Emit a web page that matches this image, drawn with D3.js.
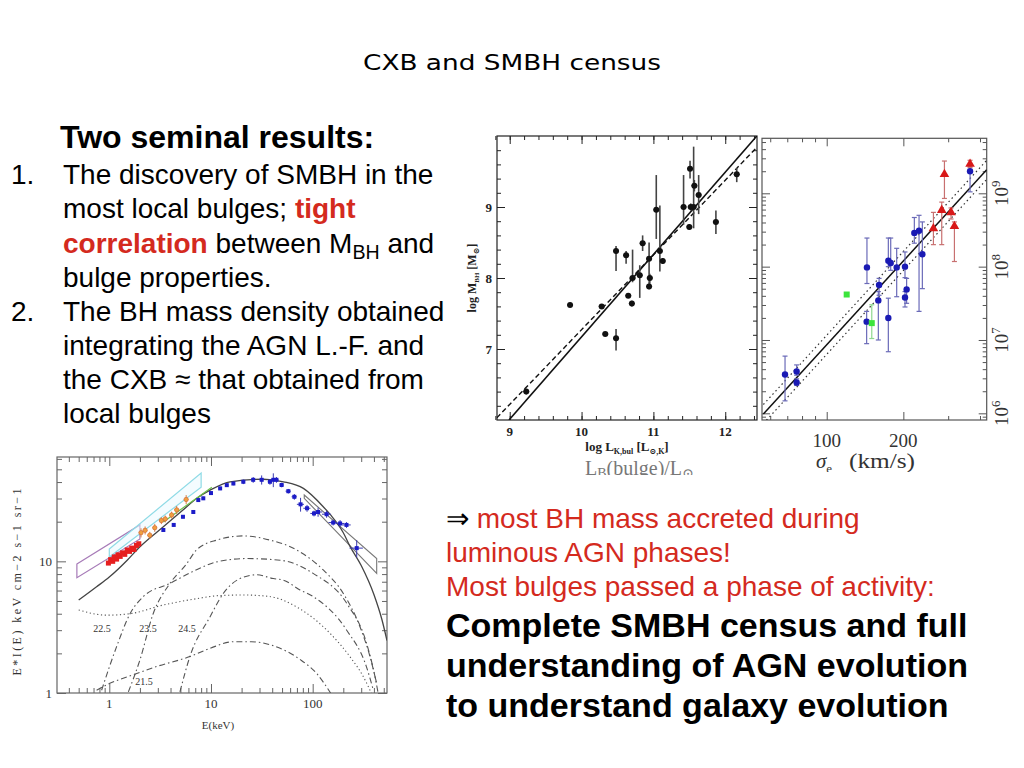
<!DOCTYPE html>
<html lang="en">
<head>
<meta charset="UTF-8" />
<script src="https://d3js.org/d3.v7.min.js"></script>
<style>
  body { margin: 0; background: #fff; }
  svg { display: block; }
</style>
</head>
<body>
<svg width="1024" height="768"></svg>
<script>
// ---------- panel 1 : M_BH vs L_K,bul ----------
const lkX    = [9.23, 9.84, 10.28, 10.33, 10.48, 10.48, 10.62, 10.65, 10.70, 10.71, 10.81, 10.85, 10.94, 10.94, 10.95, 11.04, 11.09, 11.13, 11.42, 11.50, 11.51, 11.52, 11.56, 11.57, 11.63, 11.87, 12.16];
const lkY    = [6.40, 7.62, 7.60, 7.21, 7.15, 8.38, 8.32, 7.75, 7.64, 8.00, 8.04, 8.49, 8.27, 7.88, 8.00, 8.96, 8.38, 8.24, 9.00, 8.72, 9.54, 9.00, 9.00, 9.30, 9.17, 8.79, 9.46];
const lkYlo  = [6.36, 7.59, 7.58, 7.19, 6.98, 8.10, 8.20, 7.73, 7.60, 7.94, 7.72, 8.38, 7.95, 7.84, 7.92, 8.55, 8.09, 8.20, 8.75, 8.68, 9.40, 8.95, 8.70, 9.22, 8.90, 8.62, 9.35];
const lkYhi  = [6.44, 7.65, 7.62, 7.23, 7.28, 8.45, 8.38, 7.77, 7.68, 8.40, 8.18, 8.60, 8.50, 7.95, 8.06, 9.45, 9.02, 8.28, 9.45, 8.76, 9.65, 9.05, 9.85, 9.38, 9.45, 8.95, 9.55];
const lkFitSolidX = [8.99, 12.44], lkFitSolidY = [6.00, 10.00];
const lkFitDashX  = [8.82, 12.44], lkFitDashY  = [6.03, 9.84];
const lkTicksX = [9, 10, 11, 12];
const lkTicksY = [7, 8, 9];

// ---------- panel 2 : M_BH vs sigma ----------
const sigBlue   = [68.6, 76.2, 76.2, 143.9, 143.5, 160.6, 159.5, 174.6, 174.6, 178.4, 188.3, 203, 206, 203, 220.9, 230.5, 237.5, 365.6];
const mBlue     = [6.53, 6.57, 6.42, 7.99, 7.25, 7.75, 7.54, 7.30, 8.08, 8.05, 7.99, 8.00, 7.69, 7.58, 8.46, 8.49, 8.17, 9.30];
const mBlueLo   = [6.17, 6.52, 6.38, 7.77, 6.95, 7.61, 7.00, 6.84, 8.00, 7.95, 7.59, 7.85, 7.50, 7.45, 8.32, 7.39, 7.70, 9.02];
const mBlueHi   = [6.78, 6.66, 6.47, 8.39, 7.39, 7.84, 7.66, 7.57, 8.39, 8.39, 8.25, 8.20, 7.84, 7.66, 8.67, 8.70, 8.61, 9.37];
const sigRed    = [262.5, 283, 290, 307.8, 317.4, 365.6];
const mRed      = [8.52, 8.77, 9.26, 8.74, 8.55, 9.40];
const mRedLo    = [8.30, 8.30, 8.93, 8.65, 8.07, 9.35];
const mRedHi    = [8.74, 8.88, 9.44, 8.80, 8.61, 9.45];
const sigGreen  = [119.8, 150.3];
const mGreen    = [7.62, 7.23];
const mGreenLo  = [7.60, 7.02];
const mGreenHi  = [7.64, 7.48];
const sigFitX = [56.4, 425], sigFitY = [5.99, 9.32];
const sigFitScatter = 0.13;
const sigTicksX = [100, 200];
const sigTicksY = [6, 7, 8, 9];

// ---------- panel 3 : CXB spectrum ----------
const totE = [0.5, 0.75, 1.0, 1.5, 2, 3.4, 5.3, 7.2, 9.8, 15.4, 32.6, 51.5, 81, 127, 150, 200, 233, 300, 400, 480, 538];
const totF = [5.08, 6.41, 7.6, 10.2, 12.9, 18.3, 24.5, 30, 34.7, 40.2, 42, 40.2, 35.8, 26, 22.5, 16.5, 13, 9.3, 5.6, 3.6, 2.5];
const dotE = [0.5, 0.94, 1.6, 3.4, 7.2, 12.2, 20.8, 38, 69.7, 148, 232, 315, 377];
const dotF = [4.27, 3.9, 4.0, 4.66, 5.2, 5.5, 5.55, 5.4, 4.5, 2.84, 1.89, 1.33, 1.0];
const c215E = [0.75, 1.0, 1.7, 3, 6.2, 10, 16.6, 25, 40, 75, 110, 150];
const c215F = [1.05, 1.18, 1.37, 1.6, 1.89, 2.2, 2.45, 2.45, 2.3, 1.8, 1.4, 1.0];
const c225E = [0.84, 1.18, 1.6, 2.16, 3.95, 6.7, 11.4, 22.4, 48, 101, 216, 338, 410, 440];
const c225F = [1.05, 2.25, 4.0, 5.4, 6.8, 8.4, 9.9, 10.5, 10.2, 8.1, 4.8, 2.4, 1.33, 1.0];
const c235E = [1.54, 2.0, 2.7, 3.95, 5.77, 7.2, 11.4, 20.8, 38, 69.7, 127, 200, 291, 366, 426];
const c235F = [1.02, 1.78, 4.0, 6.8, 9.6, 12.2, 14.5, 15.6, 14.5, 12.2, 8.6, 5.7, 3.2, 1.89, 1.18];
const c245E = [4.95, 6.2, 9.8, 13.2, 19.3, 28, 41, 51.5, 75, 101, 216, 338, 395];
const c245F = [1.02, 1.89, 3.8, 5.7, 7.4, 7.9, 7.4, 7.2, 6.06, 5.4, 3.0, 1.58, 1.05];
const compLabels = ["22.5", "23.5", "24.5", "21.5"];
const compLabelE = [0.85, 2.4, 5.8, 2.2];
const compLabelF = [2.9, 2.9, 2.9, 1.16];
const greenE = [3.4, 10.2], greenF = [19.9, 36.6];
const purpleBoxE = [0.48, 2.0, 2.0, 0.48], purpleBoxF = [9.55, 18.9, 14.8, 7.5];
const cyanBoxE   = [1.0, 8.0, 8.0, 1.0],   cyanBoxF   = [12.4, 46.8, 36.6, 10.8];
const bowE       = [82.6, 426, 426, 82.6], bowF       = [31.9, 10.5, 8.1, 30.1];
const redE = [0.98, 1.03, 1.08, 1.12, 1.18, 1.22, 1.28, 1.35, 1.42, 1.5, 1.58, 1.66, 1.75, 1.85, 1.95];
const redF = [9.7, 10.3, 10.0, 10.8, 10.4, 11.2, 10.9, 11.6, 11.3, 12.2, 11.9, 12.6, 12.3, 13.2, 13.6];
const orgE = [2.05, 2.25, 2.5, 2.8, 3.25, 3.55, 4.1, 4.6, 5.7];
const orgF = [16.5, 17.2, 15.8, 18.0, 20.4, 21.0, 22.5, 24.6, 29.5];
const orgErr = [0.08, 0.07, 0.06, 0.07, 0.06, 0.06, 0.06, 0.07, 0.08];
const blueE = [3.4, 4.3, 5.3, 6.7, 7.5, 8.4, 10, 12.3, 14.3, 16.6, 20.8, 26, 31.5, 38, 41, 44, 49.5, 57.6, 66, 76, 88, 103, 113, 137, 159, 186, 215, 271];
const blueF = [17.3, 18.9, 21.8, 23.7, 29.2, 30.1, 33, 35.8, 37.9, 39, 40.2, 41.6, 41.6, 40.2, 41.6, 41.6, 38, 34.1, 30.9, 27.1, 25.3, 23.1, 23.7, 22.8, 19.7, 19.4, 18.9, 12.6];
const blueErr  = [0.03, 0.03, 0.03, 0.03, 0.03, 0.03, 0.03, 0.03, 0.03, 0.03, 0.04, 0.05, 0.08, 0.05, 0.12, 0.05, 0.04, 0.04, 0.05, 0.12, 0.06, 0.05, 0.08, 0.06, 0.05, 0.06, 0.05, 0.15];
const blueXErr = [0.03, 0.03, 0.03, 0.03, 0.03, 0.03, 0.03, 0.03, 0.03, 0.03, 0.04, 0.04, 0.05, 0.05, 0.06, 0.05, 0.05, 0.06, 0.06, 0.08, 0.08, 0.08, 0.1, 0.1, 0.1, 0.1, 0.1, 0.15];
const cxbTicksX = [1, 10, 100];
const cxbTicksY = [1, 10];

const svg = d3.select("svg");
const serif = "'Liberation Serif', 'DejaVu Serif', serif";
const sans = "'Liberation Sans', Arial, sans-serif";

// inward ticks on all four sides
function frameTicks(g, x, y, xMaj, xMin, yMaj, yMin, big, small, col) {
  const [x0, x1] = x.range(), [y0, y1] = y.range();
  const put = (axis, tr, vals, len) => {
    const a = g.append("g").attr("transform", tr)
      .call(axis.tickValues(vals).tickSize(-len).tickFormat(""));
    a.select(".domain").remove();
    a.selectAll("line").attr("stroke", col);
  };
  [[xMaj, big], [xMin, small]].forEach(([v, l]) => {
    put(d3.axisBottom(x), `translate(0,${y0})`, v, l);
    put(d3.axisTop(x), `translate(0,${y1})`, v, l);
  });
  [[yMaj, big], [yMin, small]].forEach(([v, l]) => {
    put(d3.axisLeft(y), `translate(${x0},0)`, v, l);
    put(d3.axisRight(y), `translate(${x1},0)`, v, l);
  });
  g.append("rect").attr("x", x0).attr("y", y1).attr("width", x1 - x0).attr("height", y0 - y1)
    .attr("fill", "none").attr("stroke", col).attr("stroke-width", 1.2);
}

function textLine(x, y, parts, size, extra) {
  const t = svg.append("text").attr("x", x).attr("y", y)
    .attr("font-family", sans).attr("font-size", size).attr("fill", "#000");
  if (extra) extra(t);
  parts.forEach(p => {
    const s = t.append("tspan").text(p.t);
    if (p.c) s.attr("fill", p.c);
    if (p.b) s.attr("font-weight", "bold");
    if (p.sub) s.attr("font-size", size * 0.7).attr("dy", size * 0.22);
    if (p.up) s.attr("dy", -size * 0.22);
  });
  return t;
}

// ---------- slide text ----------
svg.append("text").attr("x", 512).attr("y", 70).attr("text-anchor", "middle")
  .attr("font-family", "'DejaVu Sans', sans-serif").attr("font-size", 22)
  .attr("textLength", 298).attr("lengthAdjust", "spacingAndGlyphs")
  .text("CXB and SMBH census");

const red = "#d42a1e";
textLine(60, 148, [{t: "Two seminal results:"}], 32, t => t.attr("font-weight", "bold"));
textLine(11, 184, [{t: "1."}], 28);
textLine(63, 184, [{t: "The discovery of SMBH in the"}], 28);
textLine(63, 218, [{t: "most local bulges; "}, {t: "tight", c: red, b: true}], 28);
textLine(63, 253, [{t: "correlation", c: red, b: true}, {t: " between M"}, {t: "BH", sub: true}, {t: " and", up: true}], 28);
textLine(63, 287, [{t: "bulge properties."}], 28);
textLine(11, 321, [{t: "2."}], 28);
textLine(63, 321, [{t: "The BH mass density obtained"}], 28);
textLine(63, 355, [{t: "integrating the AGN L.-F. and"}], 28);
textLine(63, 389, [{t: "the CXB \u2248 that obtained from"}], 28);
textLine(63, 423, [{t: "local bulges"}], 28);

textLine(446, 528, [{t: "\u21D2 "}, {t: "most BH mass accreted during", c: red}], 28);
textLine(446, 562, [{t: "luminous AGN phases!", c: red}], 28);
textLine(446, 596, [{t: "Most bulges passed a phase of activity:", c: red}], 28);
textLine(446, 637, [{t: "Complete SMBH census and full"}], 34, t => t.attr("font-weight", "bold"));
textLine(446, 677, [{t: "understanding of AGN evolution"}], 34, t => t.attr("font-weight", "bold"));
textLine(446, 717, [{t: "to understand galaxy evolution"}], 34, t => t.attr("font-weight", "bold"));

// ---------- panel 1 ----------
{
  const g = svg.append("g");
  const x = d3.scaleLinear().domain([8.823, 12.442]).range([497, 757]);
  const y = d3.scaleLinear().domain([6.0, 10.0]).range([420, 136]);
  frameTicks(g, x, y, lkTicksX, d3.range(8.8, 12.45, 0.2), lkTicksY, d3.range(6.2, 10, 0.2), 8, 4, "#222");

  svg.append("clipPath").attr("id", "c1").append("rect")
    .attr("x", 497).attr("y", 136).attr("width", 260).attr("height", 284);
  const line = d3.line().x(d => x(d[0])).y(d => y(d[1]));
  g.append("path").attr("clip-path", "url(#c1)").attr("d", line(d3.zip(lkFitSolidX, lkFitSolidY)))
    .attr("stroke", "#111").attr("stroke-width", 1.6).attr("fill", "none");
  g.append("path").attr("clip-path", "url(#c1)").attr("d", line(d3.zip(lkFitDashX, lkFitDashY)))
    .attr("stroke", "#111").attr("stroke-width", 1.4).attr("stroke-dasharray", "5,3").attr("fill", "none");

  lkX.forEach((v, i) => {
    g.append("line").attr("x1", x(v)).attr("x2", x(v)).attr("y1", y(lkYlo[i])).attr("y2", y(lkYhi[i]))
      .attr("stroke", "#444").attr("stroke-width", 1.6);
    g.append("line").attr("x1", x(v) - 3).attr("x2", x(v) + 3).attr("y1", y(lkY[i])).attr("y2", y(lkY[i]))
      .attr("stroke", "#444").attr("stroke-width", 1.2);
  });
  g.selectAll("circle.p1").data(d3.zip(lkX, lkY)).join("circle").attr("class", "p1")
    .attr("cx", d => x(d[0])).attr("cy", d => y(d[1])).attr("r", 3).attr("fill", "#111");

  g.selectAll("text.tx").data(lkTicksX).join("text").attr("class", "tx")
    .attr("x", d => x(d)).attr("y", 436).attr("text-anchor", "middle")
    .attr("font-family", serif).attr("font-size", 13).attr("font-weight", "bold").attr("fill", "#222").text(d => d);
  g.selectAll("text.ty").data(lkTicksY).join("text").attr("class", "ty")
    .attr("x", 492).attr("y", d => y(d) + 4.5).attr("text-anchor", "end")
    .attr("font-family", serif).attr("font-size", 13).attr("font-weight", "bold").attr("fill", "#222").text(d => d);

  const xl = g.append("text").attr("x", 627).attr("y", 451).attr("text-anchor", "middle")
    .attr("font-family", serif).attr("font-size", 13).attr("font-weight", "bold").attr("fill", "#222");
  xl.append("tspan").text("log  L");
  xl.append("tspan").text("K,bul").attr("font-size", 8).attr("dy", 2.5);
  xl.append("tspan").text(" [L").attr("dy", -2.5);
  xl.append("tspan").text("\u2299,K").attr("font-size", 8).attr("dy", 2.5);
  xl.append("tspan").text("]").attr("dy", -2.5);

  const yl = g.append("text").attr("transform", "translate(476,278) rotate(-90)").attr("text-anchor", "middle")
    .attr("font-family", serif).attr("font-size", 12).attr("font-weight", "bold").attr("fill", "#222");
  yl.append("tspan").text("log  M");
  yl.append("tspan").text("BH").attr("font-size", 7).attr("dy", 3);
  yl.append("tspan").text("  [M").attr("dy", -3);
  yl.append("tspan").text("\u2299").attr("font-size", 8).attr("dy", 3);
  yl.append("tspan").text("]").attr("dy", -3);

  // lower part of an underlying axis caption, cut off by the panel above
  svg.append("clipPath").attr("id", "c1b").append("rect").attr("x", 560).attr("y", 461).attr("width", 160).attr("height", 14);
  const lb = g.append("text").attr("clip-path", "url(#c1b)").attr("x", 585).attr("y", 475)
    .attr("font-family", serif).attr("font-size", 20).attr("fill", "#777");
  lb.append("tspan").text("L");
  lb.append("tspan").text("B").attr("font-size", 14).attr("dy", 3);
  lb.append("tspan").text("(bulge)/L").attr("dy", -3);
  lb.append("tspan").text("\u2299").attr("font-size", 14).attr("dy", 3);
}

// ---------- panel 2 ----------
{
  const g = svg.append("g");
  const x = d3.scaleLog().domain([55.7, 425]).range([762, 986.7]);
  const y = d3.scaleLog().domain([Math.pow(10, 5.909), Math.pow(10, 9.75)]).range([420, 138.3]);
  const yMaj = sigTicksY.map(d => Math.pow(10, d));
  const yMin = [];
  [5, 6, 7, 8, 9].forEach(e => d3.range(2, 10).forEach(k => {
    const v = k * Math.pow(10, e);
    if (v > y.domain()[0] && v < y.domain()[1]) yMin.push(v);
  }));
  frameTicks(g, x, y, sigTicksX, [60, 70, 80, 90, 300, 400], yMaj, yMin, 8, 4, "#555");

  svg.append("clipPath").attr("id", "c2").append("rect")
    .attr("x", 762).attr("y", 138.3).attr("width", 224.7).attr("height", 281.7);
  const line = d3.line().x(d => x(d[0])).y(d => y(Math.pow(10, d[1])));
  const fit = d3.zip(sigFitX, sigFitY);
  g.append("path").attr("clip-path", "url(#c2)").attr("d", line(fit))
    .attr("stroke", "#111").attr("stroke-width", 1.5).attr("fill", "none");
  [-1, 1].forEach(s => {
    g.append("path").attr("clip-path", "url(#c2)").attr("d", line(fit.map(d => [d[0], d[1] + s * sigFitScatter])))
      .attr("stroke", "#333").attr("stroke-width", 1.2).attr("stroke-dasharray", "1.5,3").attr("fill", "none");
  });

  const errs = (sig, m, lo, hi, col) => sig.forEach((v, i) => {
    const px = x(v);
    g.append("line").attr("x1", px).attr("x2", px).attr("y1", y(Math.pow(10, lo[i]))).attr("y2", y(Math.pow(10, hi[i])))
      .attr("stroke", col).attr("stroke-width", 1.2);
    [lo[i], hi[i]].forEach(e => g.append("line").attr("x1", px - 2.5).attr("x2", px + 2.5)
      .attr("y1", y(Math.pow(10, e))).attr("y2", y(Math.pow(10, e))).attr("stroke", col).attr("stroke-width", 1.2));
  });
  errs(sigBlue, mBlue, mBlueLo, mBlueHi, "#6a6ab8");
  errs(sigRed, mRed, mRedLo, mRedHi, "#c87070");
  errs(sigGreen, mGreen, mGreenLo, mGreenHi, "#8fd88f");

  g.selectAll("circle.b2").data(d3.zip(sigBlue, mBlue)).join("circle").attr("class", "b2")
    .attr("cx", d => x(d[0])).attr("cy", d => y(Math.pow(10, d[1]))).attr("r", 3.2).attr("fill", "#1a1ab4");
  g.selectAll("path.r2").data(d3.zip(sigRed, mRed)).join("path").attr("class", "r2")
    .attr("transform", d => `translate(${x(d[0])},${y(Math.pow(10, d[1]))})`)
    .attr("d", d3.symbol(d3.symbolTriangle, 40)).attr("fill", "#d81818");
  g.selectAll("rect.g2").data(d3.zip(sigGreen, mGreen)).join("rect").attr("class", "g2")
    .attr("x", d => x(d[0]) - 3).attr("y", d => y(Math.pow(10, d[1])) - 3).attr("width", 6).attr("height", 6)
    .attr("fill", "#3ce43c");

  g.selectAll("text.tx2").data(sigTicksX).join("text").attr("class", "tx2")
    .attr("x", d => x(d)).attr("y", 447).attr("text-anchor", "middle")
    .attr("font-family", serif).attr("font-size", 19).attr("fill", "#333").text(d => d);

  sigTicksY.forEach(e => {
    const t = g.append("text").attr("transform", `translate(1008,${y(Math.pow(10, e))}) rotate(-90)`)
      .attr("text-anchor", "middle").attr("font-family", serif).attr("font-size", 19).attr("fill", "#333");
    t.append("tspan").text("10");
    t.append("tspan").text(e).attr("font-size", 13).attr("dy", -8);
  });

  svg.append("clipPath").attr("id", "c2b").append("rect").attr("x", 800).attr("y", 450).attr("width", 140).attr("height", 22);
  const sl = g.append("text").attr("clip-path", "url(#c2b)").attr("x", 816).attr("y", 468)
    .attr("font-family", serif).attr("font-size", 21).attr("fill", "#333");
  sl.append("tspan").text("\u03C3").attr("font-style", "italic");
  sl.append("tspan").text("e").attr("font-size", 13).attr("dy", 5);
  sl.append("tspan").text("(km/s)").attr("x", 849).attr("dy", -5)
    .attr("textLength", 66).attr("lengthAdjust", "spacingAndGlyphs");
}

// ---------- panel 3 ----------
{
  const g = svg.append("g");
  const x = d3.scaleLog().domain([0.306, 538]).range([57, 387]);
  const y = d3.scaleLog().domain([1, 62]).range([693, 457]);
  const xMin = [0.4, 0.5, 0.6, 0.7, 0.8, 0.9, 2, 3, 4, 5, 6, 7, 8, 9, 20, 30, 40, 50, 60, 70, 80, 90, 200, 300, 400, 500];
  const yMin = [2, 3, 4, 5, 6, 7, 8, 9, 20, 30, 40, 50, 60];
  frameTicks(g, x, y, cxbTicksX, xMin, cxbTicksY, yMin, 9, 5, "#666");

  svg.append("clipPath").attr("id", "c3").append("rect")
    .attr("x", 57).attr("y", 457).attr("width", 330).attr("height", 236);
  const pc = g.append("g").attr("clip-path", "url(#c3)");
  const line = d3.line().x(d => x(d[0])).y(d => y(d[1])).curve(d3.curveMonotoneX);
  const poly = (E, F) => "M" + d3.zip(E, F).map(d => [x(d[0]), y(d[1])].join(",")).join("L") + "Z";

  pc.append("path").attr("d", poly(purpleBoxE, purpleBoxF)).attr("fill", "none").attr("stroke", "#a77bb8").attr("stroke-width", 1.2);
  pc.append("path").attr("d", poly(cyanBoxE, cyanBoxF)).attr("fill", "#eafaff").attr("fill-opacity", 0.5)
    .attr("stroke", "#8fdbe6").attr("stroke-width", 1.2);
  pc.append("path").attr("d", poly(bowE, bowF)).attr("fill", "none").attr("stroke", "#777").attr("stroke-width", 1.1);

  const style = [
    [dotE, dotF, "1.2,2.6"],
    [c215E, c215F, "6,3,1.5,3"],
    [c225E, c225F, "6,3,1.5,3"],
    [c235E, c235F, "6,3,1.5,3"],
    [c245E, c245F, "6,3,1.5,3"]
  ];
  style.forEach(([E, F, dash]) => {
    pc.append("path").attr("d", line(d3.zip(E, F))).attr("fill", "none")
      .attr("stroke", "#555").attr("stroke-width", 1.1).attr("stroke-dasharray", dash);
  });
  pc.append("path").attr("d", line(d3.zip(totE, totF))).attr("fill", "none").attr("stroke", "#444").attr("stroke-width", 1.3);
  pc.append("path").attr("d", line(d3.zip(greenE, greenF))).attr("fill", "none").attr("stroke", "#6cc04a").attr("stroke-width", 1.2);

  // data
  orgE.forEach((e, i) => {
    pc.append("line").attr("x1", x(e)).attr("x2", x(e)).attr("y1", y(orgF[i] * (1 - orgErr[i]))).attr("y2", y(orgF[i] * (1 + orgErr[i])))
      .attr("stroke", "#d8824a").attr("stroke-width", 1);
    pc.append("line").attr("x1", x(e * 0.95)).attr("x2", x(e * 1.05)).attr("y1", y(orgF[i])).attr("y2", y(orgF[i]))
      .attr("stroke", "#d8824a").attr("stroke-width", 1);
  });
  pc.selectAll("circle.o3").data(d3.zip(orgE, orgF)).join("circle").attr("class", "o3")
    .attr("cx", d => x(d[0])).attr("cy", d => y(d[1])).attr("r", 2.2).attr("fill", "#f0a040").attr("stroke", "#d06030").attr("stroke-width", 0.6);
  pc.selectAll("rect.r3").data(d3.zip(redE, redF)).join("rect").attr("class", "r3")
    .attr("x", d => x(d[0]) - 2.5).attr("y", d => y(d[1]) - 2.5).attr("width", 5).attr("height", 5).attr("fill", "#e61e1e");

  blueE.forEach((e, i) => {
    pc.append("line").attr("x1", x(e)).attr("x2", x(e)).attr("y1", y(blueF[i] * (1 - blueErr[i]))).attr("y2", y(blueF[i] * (1 + blueErr[i])))
      .attr("stroke", "#3a3ab0").attr("stroke-width", 1);
    pc.append("line").attr("x1", x(e * (1 - blueXErr[i]))).attr("x2", x(e * (1 + blueXErr[i]))).attr("y1", y(blueF[i])).attr("y2", y(blueF[i]))
      .attr("stroke", "#3a3ab0").attr("stroke-width", 1);
  });
  pc.selectAll("rect.b3").data(d3.zip(blueE, blueF)).join("rect").attr("class", "b3")
    .attr("x", d => x(d[0]) - 2).attr("y", d => y(d[1]) - 2).attr("width", 4).attr("height", 4).attr("fill", "#1c1cc8");

  compLabels.forEach((l, i) => {
    g.append("text").attr("x", x(compLabelE[i])).attr("y", y(compLabelF[i])).attr("text-anchor", "middle")
      .attr("font-family", serif).attr("font-size", 10).attr("fill", "#333").text(l);
  });

  g.selectAll("text.tx3").data(cxbTicksX).join("text").attr("class", "tx3")
    .attr("x", d => x(d)).attr("y", 708).attr("text-anchor", "middle")
    .attr("font-family", serif).attr("font-size", 13).attr("fill", "#333").text(d => d);
  g.selectAll("text.ty3").data(cxbTicksY).join("text").attr("class", "ty3")
    .attr("x", 52).attr("y", d => y(d) + 4.5).attr("text-anchor", "end")
    .attr("font-family", serif).attr("font-size", 13).attr("fill", "#333").text(d => d);
  g.append("text").attr("x", 218).attr("y", 729).attr("text-anchor", "middle")
    .attr("font-family", serif).attr("font-size", 11).attr("fill", "#333").text("E(keV)");
  g.append("text").attr("transform", "translate(21,582) rotate(-90)").attr("text-anchor", "middle")
    .attr("font-family", serif).attr("font-size", 12).attr("fill", "#333")
    .attr("textLength", 187).attr("lengthAdjust", "spacing")
    .text("E*I(E)  keV  cm\u22122  s\u22121  sr\u22121");
}
</script>
</body>
</html>
